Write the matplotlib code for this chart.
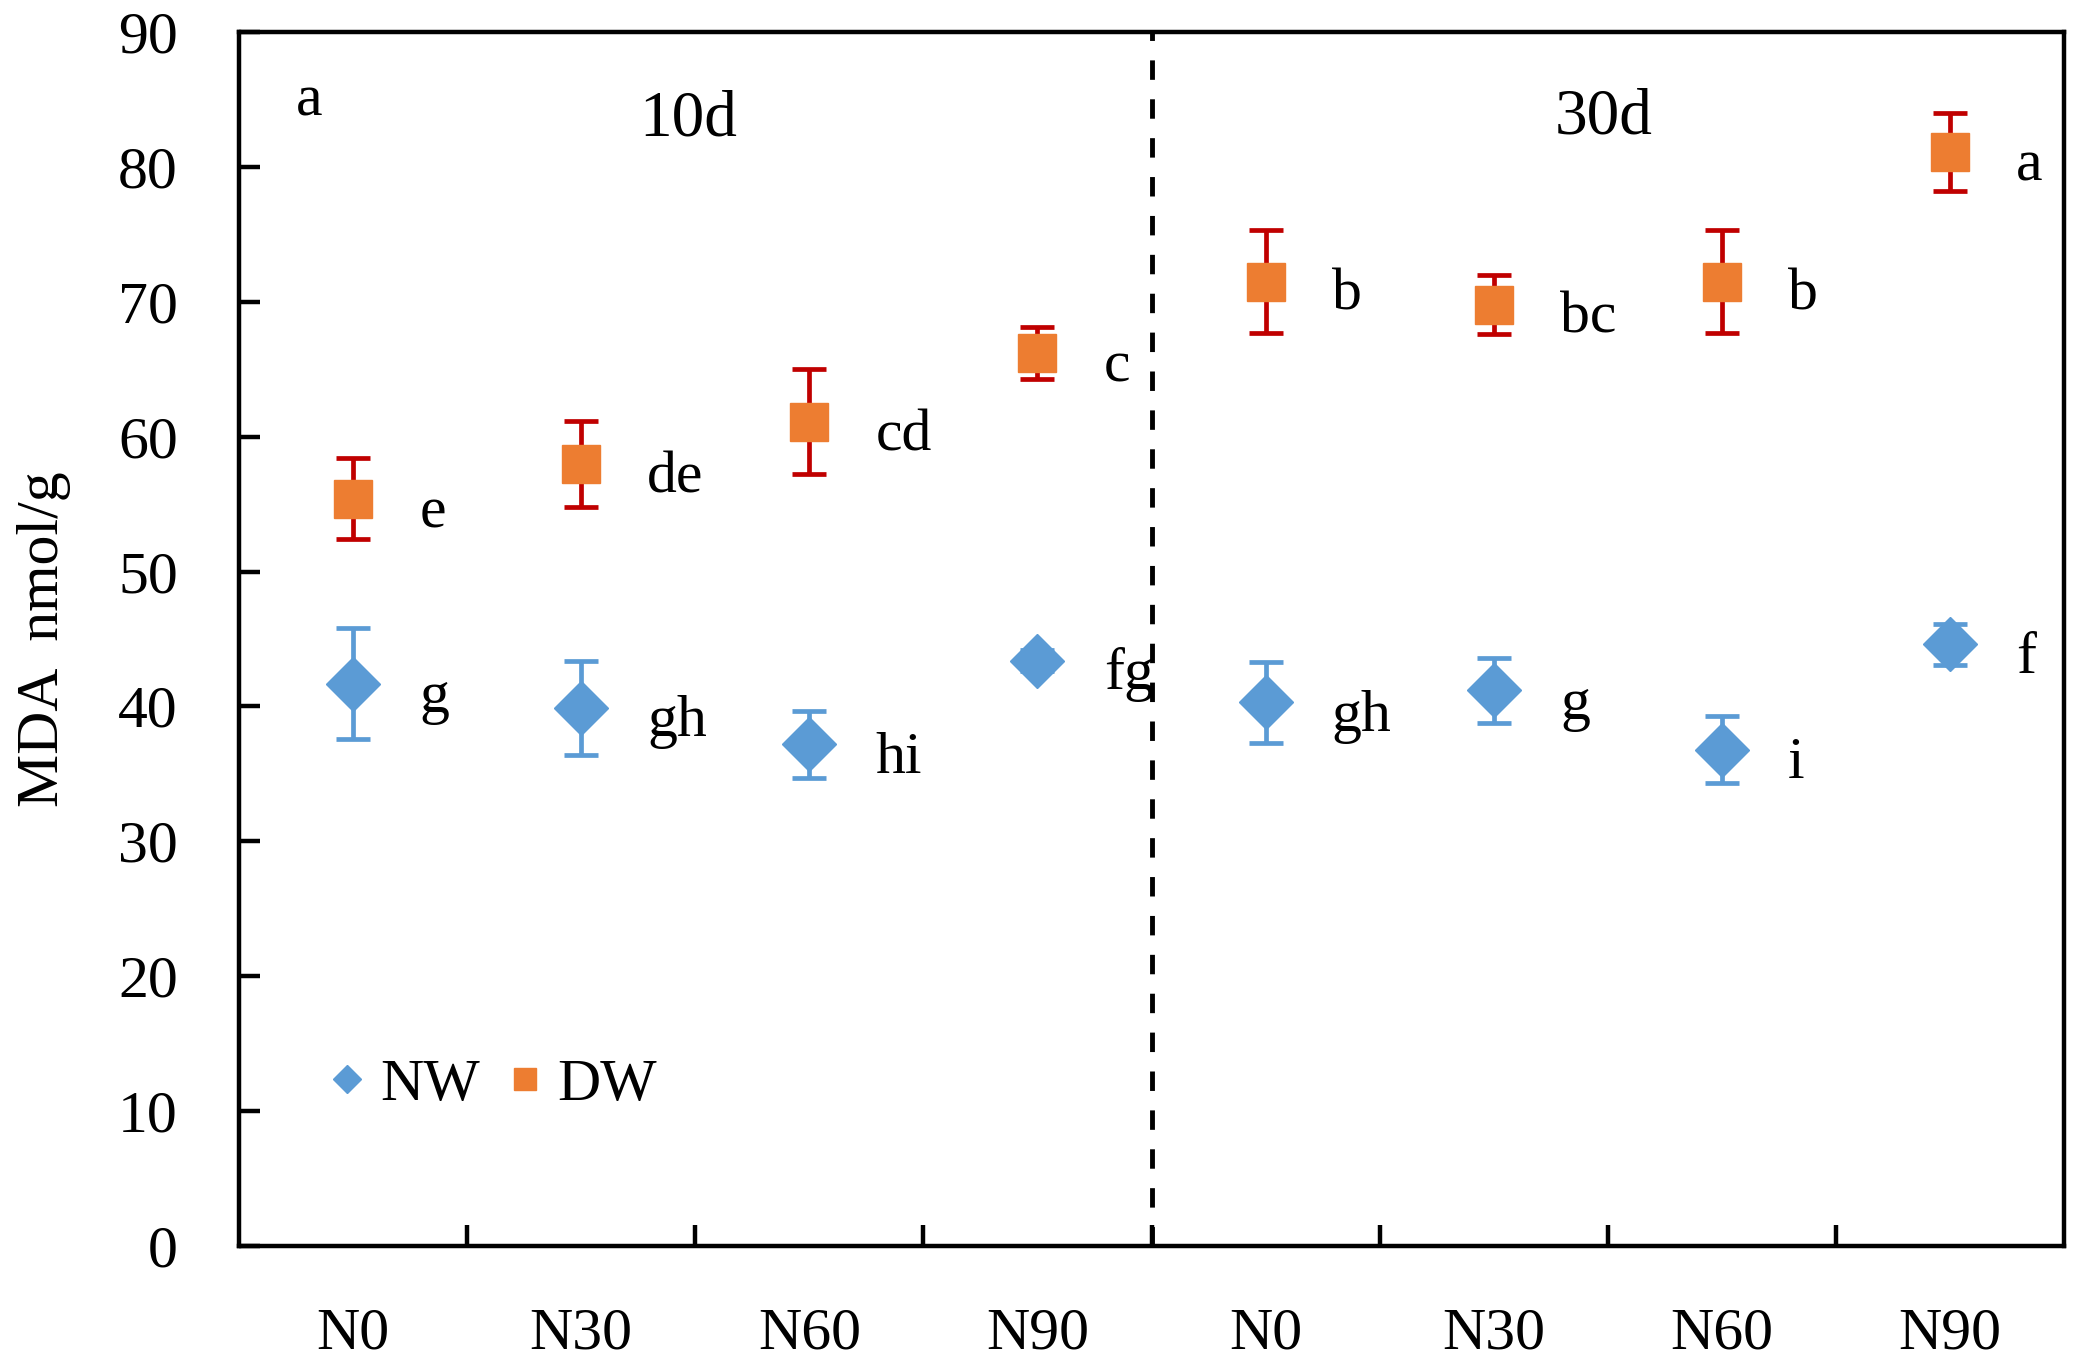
import numpy as np
import matplotlib.pyplot as plt
from matplotlib.lines import Line2D

plt.rcParams['font.family'] = ['Liberation Serif', 'DejaVu Serif']

# --- data ---
categories = ['N0', 'N30', 'N60', 'N90', 'N0', 'N30', 'N60', 'N90']
periods = ['10d', '30d']

nw_mean = [41.7, 39.9, 37.2, 43.4, 40.3, 41.2, 36.8, 44.6]
nw_err = [4.1, 3.5, 2.5, 0.8, 3.0, 2.4, 2.5, 1.5]
nw_letters = ['g', 'gh', 'hi', 'fg', 'gh', 'g', 'i', 'f']

dw_mean = [55.4, 58.0, 61.1, 66.2, 71.5, 69.8, 71.5, 81.1]
dw_err = [3.0, 3.2, 3.9, 1.9, 3.8, 2.2, 3.8, 2.9]
dw_letters = ['e', 'de', 'cd', 'c', 'b', 'bc', 'b', 'a']

BLUE = '#5B9BD5'
ORANGE = '#ED7D31'
RED = '#C00000'
FS = 43

fig = plt.figure(figsize=(20.85, 13.63), dpi=100)
ax = fig.add_axes([0.1146, 0.0858, 0.8754, 0.8907])

x = np.arange(len(categories)) + 0.5

ax.errorbar(x, nw_mean, yerr=nw_err, fmt='D', color=BLUE, ecolor=BLUE,
            markersize=27, elinewidth=3.4, capsize=12, capthick=3.4, zorder=3)
ax.errorbar(x, dw_mean, yerr=dw_err, fmt='s', color=ORANGE, ecolor=RED,
            markersize=28, elinewidth=3.4, capsize=12, capthick=3.4, zorder=3)

# significance letters
for xi, yi, t in zip(x, nw_mean, nw_letters):
    ax.text(xi + 0.29, yi - 2.1, t, fontsize=FS, ha='left', va='baseline')
for xi, yi, t in zip(x, dw_mean, dw_letters):
    ax.text(xi + 0.29, yi - 2.1, t, fontsize=FS, ha='left', va='baseline')

# period separator and labels
ax.axvline(4, color='black', lw=3.5, ls=(0, (4, 4)), zorder=2)
ax.text(1.97, 82.3, periods[0], fontsize=47, ha='center', va='baseline')
ax.text(5.98, 82.5, periods[1], fontsize=47, ha='center', va='baseline')
ax.text(0.31, 83.8, 'a', fontsize=FS, ha='center', va='baseline')

ax.set_xlim(0, 8)
ax.set_ylim(0, 90)
ax.set_yticks(np.arange(0, 91, 10))
ax.set_xticks(np.arange(1, 8))
ax.set_xticklabels([])
ax.set_xticks(x, minor=True)
ax.set_xticklabels(categories, minor=True)

ax.tick_params(axis='y', direction='in', length=15, width=3.2, labelsize=FS, pad=44)
ax.tick_params(axis='x', which='major', direction='in', length=15, width=3.2)
ax.tick_params(axis='x', which='minor', length=0, labelsize=FS, pad=44)
for s in ax.spines.values():
    s.set_linewidth(3.2)

ax.set_ylabel('MDA  nmol/g', fontsize=FS, labelpad=34)

handles = [Line2D([], [], marker='D', color=BLUE, ls='none', markersize=14),
           Line2D([], [], marker='s', color=ORANGE, ls='none', markersize=16)]
ax.legend(handles, ['NW', 'DW'], loc='lower left', bbox_to_anchor=(0.02, 0.065),
          ncol=2, frameon=False, fontsize=FS, handlelength=0.6,
          handletextpad=0.25, columnspacing=0.45)

fig.savefig('out.png', dpi=100)
